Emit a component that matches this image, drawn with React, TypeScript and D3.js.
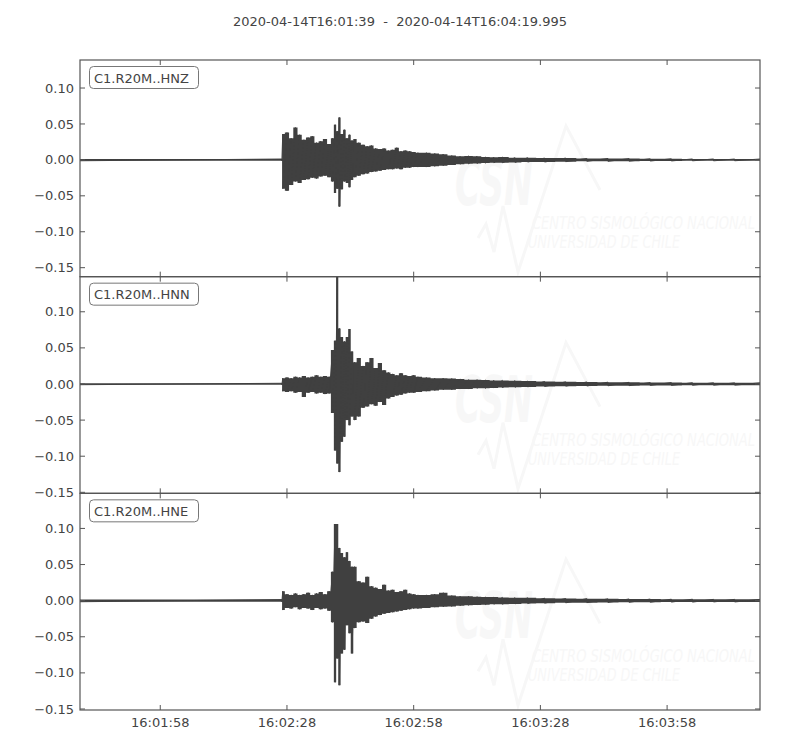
import * as d3 from "d3";

// Seismogram C1.R20M, 2020-04-14, three components (min/max envelope)
const TITLE = "2020-04-14T16:01:39  -  2020-04-14T16:04:19.995";
const START = Date.UTC(2020, 3, 14, 16, 1, 39);
const END = START + 160995;

const channels = ["C1.R20M..HNZ", "C1.R20M..HNN", "C1.R20M..HNE"];

// seconds after 16:01:39
const times = [
  0, 47.8, 48, 49, 50, 51, 52, 53, 54, 55, 56, 57, 58, 59,
  59.8, 60.4, 60.9, 61.4, 62, 62.6, 63.2, 63.8, 64.4, 65,
  66, 67, 68, 69, 70, 71, 72, 73, 74, 75, 76, 77, 78, 79, 80,
  82, 84, 86, 88, 90, 92, 94, 96, 98, 100,
  103, 106, 110, 115, 120, 125, 130, 135, 140, 145, 150, 155, 161,
];

const hnzHigh = [
  0.0012, 0.0012, 0.036, 0.038, 0.03, 0.045, 0.035, 0.028, 0.031, 0.033, 0.024, 0.026, 0.029, 0.022,
  0.03, 0.049, 0.04, 0.059, 0.036, 0.042, 0.03, 0.035, 0.027, 0.029,
  0.024, 0.021, 0.019, 0.02, 0.016, 0.015, 0.016, 0.013, 0.014, 0.017, 0.012, 0.013, 0.012, 0.011, 0.01,
  0.01, 0.009, 0.008, 0.006, 0.005, 0.0055, 0.005, 0.004, 0.0035, 0.004,
  0.003, 0.003, 0.0025, 0.0025, 0.002, 0.002, 0.0018, 0.0015, 0.0015, 0.0013, 0.0013, 0.0012, 0.0012,
];
const hnzLow = [
  -0.0012, -0.0012, -0.04, -0.043, -0.035, -0.03, -0.032, -0.028, -0.027, -0.025, -0.026, -0.023, -0.022, -0.024,
  -0.03, -0.046, -0.04, -0.065, -0.041, -0.03, -0.032, -0.038, -0.028, -0.024,
  -0.022, -0.02, -0.019, -0.017, -0.016, -0.015, -0.014, -0.013, -0.013, -0.012, -0.013, -0.011, -0.011, -0.01, -0.01,
  -0.01, -0.009, -0.008, -0.007, -0.006, -0.0055, -0.005, -0.0045, -0.004, -0.004,
  -0.0035, -0.003, -0.003, -0.0025, -0.002, -0.002, -0.0018, -0.0016, -0.0015, -0.0013, -0.0013, -0.0012, -0.0012,
];

const hnnHigh = [
  0.001, 0.001, 0.008, 0.009, 0.008, 0.01, 0.009, 0.011, 0.009, 0.01, 0.012, 0.01, 0.011, 0.01,
  0.047, 0.06, 0.16, 0.077, 0.065, 0.059, 0.065, 0.076, 0.045, 0.03,
  0.036, 0.025, 0.03, 0.036, 0.022, 0.029, 0.019, 0.016, 0.014, 0.012, 0.015, 0.012, 0.011, 0.012, 0.01,
  0.009, 0.008, 0.008, 0.0075, 0.007, 0.006, 0.006, 0.0055, 0.005, 0.005,
  0.0045, 0.004, 0.0035, 0.003, 0.0028, 0.0025, 0.0023, 0.002, 0.002, 0.0018, 0.0017, 0.0016, 0.0016,
];
const hnnLow = [
  -0.001, -0.001, -0.01, -0.011, -0.01, -0.012, -0.011, -0.018, -0.012, -0.011, -0.013, -0.012, -0.014, -0.013,
  -0.04, -0.092, -0.11, -0.122, -0.08, -0.073, -0.05, -0.057, -0.045, -0.05,
  -0.045, -0.033, -0.031, -0.028, -0.03, -0.025, -0.029, -0.02, -0.018, -0.016, -0.015, -0.013, -0.012, -0.012, -0.011,
  -0.01, -0.009, -0.008, -0.008, -0.007, -0.007, -0.006, -0.006, -0.0055, -0.005,
  -0.0045, -0.004, -0.0035, -0.003, -0.0028, -0.0025, -0.0023, -0.002, -0.002, -0.0018, -0.0017, -0.0016, -0.0016,
];

const hneHigh = [
  0.0015, 0.0015, 0.013, 0.009, 0.008, 0.01, 0.008, 0.009, 0.011, 0.008, 0.01, 0.012, 0.009, 0.013,
  0.04, 0.106, 0.106, 0.073, 0.066, 0.06, 0.067, 0.055, 0.047, 0.047,
  0.027, 0.025, 0.033, 0.02, 0.018, 0.016, 0.022, 0.014, 0.015, 0.012, 0.013, 0.015, 0.01, 0.009, 0.008,
  0.008, 0.009, 0.011, 0.007, 0.006, 0.006, 0.0055, 0.005, 0.005, 0.0045,
  0.004, 0.004, 0.0035, 0.003, 0.0028, 0.0025, 0.0023, 0.0022, 0.002, 0.002, 0.0018, 0.0018, 0.0018,
];
const hneLow = [
  -0.0015, -0.0015, -0.013, -0.01, -0.011, -0.009, -0.012, -0.01, -0.011, -0.013, -0.01, -0.012, -0.011, -0.014,
  -0.03, -0.113, -0.08, -0.117, -0.073, -0.068, -0.034, -0.045, -0.073, -0.038,
  -0.03, -0.029, -0.031, -0.025, -0.022, -0.02, -0.018, -0.017, -0.016, -0.015, -0.014, -0.013, -0.012, -0.011, -0.011,
  -0.01, -0.009, -0.0085, -0.008, -0.007, -0.0065, -0.006, -0.0055, -0.005, -0.005,
  -0.0045, -0.004, -0.0035, -0.003, -0.0028, -0.0025, -0.0023, -0.0022, -0.002, -0.002, -0.0018, -0.0018, -0.0018,
];

const highs = [hnzHigh, hnnHigh, hneHigh];
const lows = [hnzLow, hnnLow, hneLow];

// y limits of each panel
const yLimits: [number, number][] = [
  [-0.1625, 0.139],
  [-0.1514, 0.1486],
  [-0.1514, 0.1486],
];
const yTicks = [0.1, 0.05, 0, -0.05, -0.1, -0.15];

const xTickOffsets = [19, 49, 79, 109, 139];
const xTickLabels = ["16:01:58", "16:02:28", "16:02:58", "16:03:28", "16:03:58"];

const W = 800;
const H = 750;
const left = 80;
const right = 760;
const top = 60;
const bottom = 710;
const panelH = (bottom - top) / 3;

const ink = "#444";
const spine = "#555";
const wave = "#404040";
const mark = "#f7f7f7";
const font = "DejaVu Sans, sans-serif";

const fmtY = (v: number) => (v < 0 ? "\u2212" : "") + Math.abs(v).toFixed(2);

function Watermark({ y0 }: { y0: number }) {
  const w = [
    [478, 238], [486, 224], [494, 252], [503, 206], [518, 272], [566, 126], [600, 190],
  ];
  return (
    <g pointerEvents="none">
      <text x={455} y={y0 + 145} fontFamily={font} fontWeight="bold" fontStyle="italic"
        fontSize={64} fill={mark} textLength={78} lengthAdjust="spacingAndGlyphs">CSN</text>
      <polyline points={w.map(([x, y]) => `${x},${y - 60 + y0}`).join(" ")}
        fill="none" stroke={mark} strokeWidth={3} strokeLinejoin="miter" />
      <text x={532} y={y0 + 169} fontFamily="Liberation Sans Narrow, DejaVu Sans Condensed, sans-serif"
        fontStyle="italic" fontSize={17} fill={mark} textLength={223} lengthAdjust="spacingAndGlyphs">
        CENTRO SISMOLÓGICO NACIONAL
      </text>
      <text x={528} y={y0 + 188} fontFamily="Liberation Sans Narrow, DejaVu Sans Condensed, sans-serif"
        fontStyle="italic" fontSize={17} fill={mark} textLength={152} lengthAdjust="spacingAndGlyphs">
        UNIVERSIDAD DE CHILE
      </text>
    </g>
  );
}

export default function App() {
  const x = d3.scaleUtc().domain([new Date(START), new Date(END)]).range([left, right]);
  const tx = (t: number) => x(new Date(START + t * 1000));

  return (
    <svg width={W} height={H} style={{ position: "absolute", left: 0, top: 0, background: "#fff" }}>
      <text x={W / 2} y={26} textAnchor="middle" fontFamily={font} fontSize={13} fill={ink}
        style={{ whiteSpace: "pre" }}>{TITLE}</text>
      {channels.map((name, k) => {
        const y0 = top + k * panelH;
        const y = d3.scaleLinear().domain(yLimits[k]).range([y0 + panelH, y0]);
        const hi = highs[k];
        const lo = lows[k];
        const area = d3.area<number>()
          .curve(d3.curveStep)
          .x((t) => tx(t))
          .y0((_, i) => y(lo[i]))
          .y1((_, i) => y(hi[i]));
        const pts: [number, number][] = [];
        times.forEach((t, i) => {
          pts.push([t, hi[i]]);
          pts.push([t, lo[i]]);
        });
        const zig = d3.line<[number, number]>().x((d) => tx(d[0])).y((d) => y(d[1]));
        return (
          <g key={name}>
            <defs>
              <clipPath id={`clip${k}`}>
                <rect x={left} y={y0} width={right - left} height={panelH} />
              </clipPath>
            </defs>
            <Watermark y0={y0} />
            <g clipPath={`url(#clip${k})`}>
              <path d={area(times) ?? ""} fill={wave} />
              <path d={zig(pts) ?? ""} fill="none" stroke={wave} strokeWidth={1} />
            </g>
            {/* y ticks, inward on both sides */}
            {yTicks.map((v) => (
              <g key={v}>
                <line x1={left} x2={left + 5} y1={y(v)} y2={y(v)} stroke={spine} />
                <line x1={right} x2={right - 5} y1={y(v)} y2={y(v)} stroke={spine} />
                <text x={left - 6} y={y(v)} dy="0.35em" textAnchor="end" fontFamily={font}
                  fontSize={13} fill={ink}>{fmtY(v)}</text>
              </g>
            ))}
            {/* x ticks on top and bottom */}
            {xTickOffsets.map((t) => (
              <g key={t}>
                <line x1={tx(t)} x2={tx(t)} y1={y0} y2={y0 + 5} stroke={spine} />
                <line x1={tx(t)} x2={tx(t)} y1={y0 + panelH} y2={y0 + panelH - 5} stroke={spine} />
              </g>
            ))}
            <rect x={left} y={y0} width={right - left} height={panelH} fill="none" stroke={spine} strokeWidth={1.2} />
            <rect x={89.5} y={y0 + 6.5} width={109} height={22} rx={4} fill="#fff" stroke="#777" />
            <text x={94} y={y0 + 22.5} fontFamily={font} fontSize={13} fill={ink}>{name}</text>
          </g>
        );
      })}
      {xTickOffsets.map((t, i) => (
        <text key={t} x={tx(t)} y={727} textAnchor="middle" fontFamily={font} fontSize={13} fill={ink}>
          {xTickLabels[i]}
        </text>
      ))}
    </svg>
  );
}
